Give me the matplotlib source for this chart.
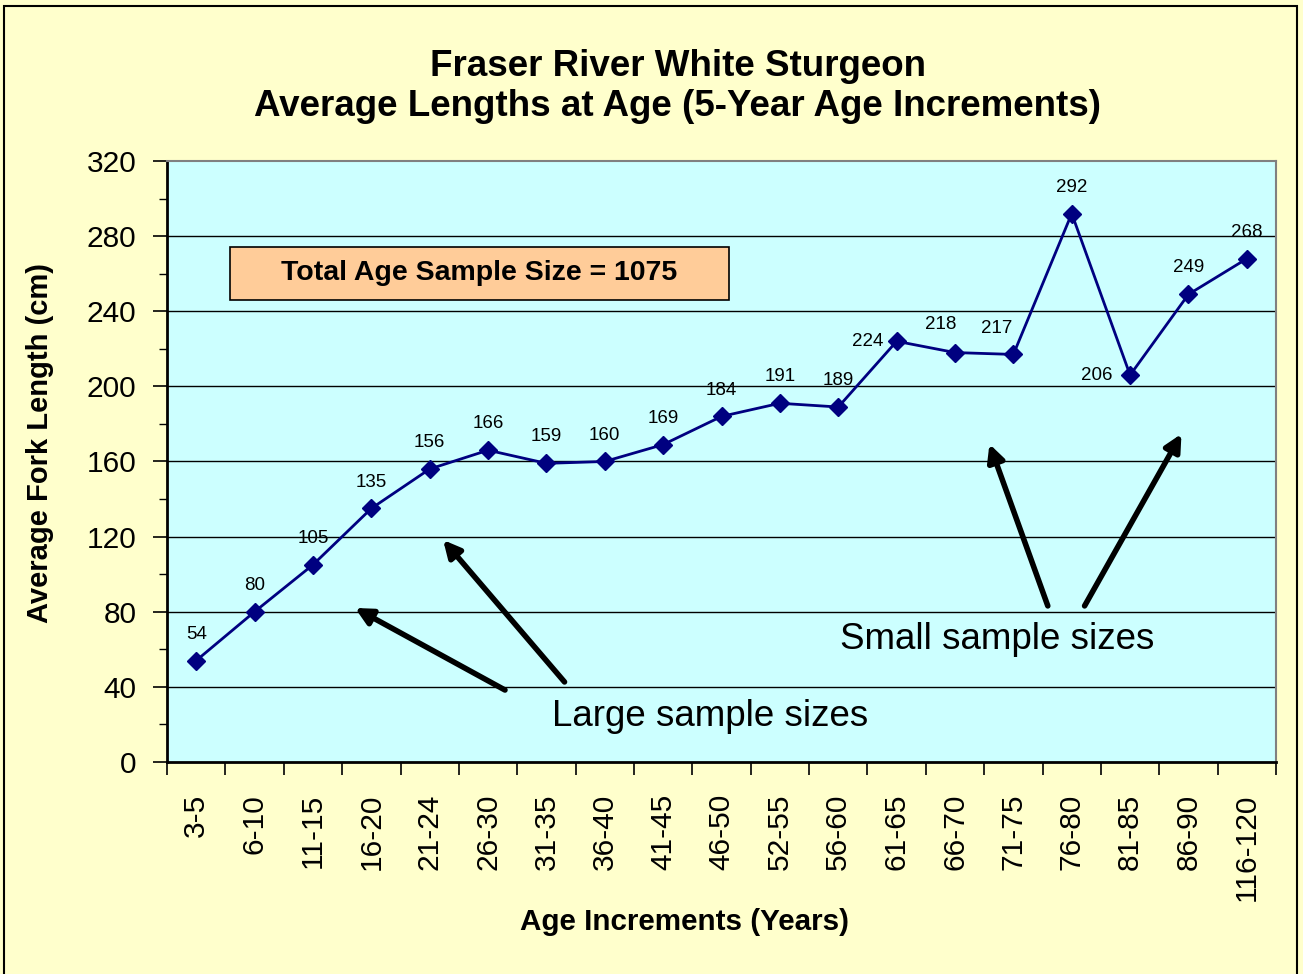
import matplotlib
import matplotlib.pyplot as plt
from matplotlib.patches import Rectangle
from matplotlib.ticker import MultipleLocator, FixedLocator, NullFormatter

plt.switch_backend("Agg")
plt.rcParams["font.family"] = ["Liberation Sans", "DejaVu Sans"]

# data
age_groups = ["3-5", "6-10", "11-15", "16-20", "21-24", "26-30", "31-35", "36-40",
              "41-45", "46-50", "52-55", "56-60", "61-65", "66-70", "71-75", "76-80",
              "81-85", "86-90", "116-120"]
avg_length = [54, 80, 105, 135, 156, 166, 159, 160, 169, 184, 191, 189, 224, 218,
              217, 292, 206, 249, 268]
sample_note = "Total Age Sample Size = 1075"

NAVY = "#000080"
PLOT_BG = "#CCFFFF"
FIG_BG = "#FFFFCC"

fig = plt.figure(figsize=(13.03, 9.74), dpi=100, facecolor=FIG_BG)
fig.patches.append(Rectangle((4 / 1303, -0.01), 1293 / 1303, 1 - 6 / 974 + 0.01,
                             transform=fig.transFigure, fill=False,
                             edgecolor="black", linewidth=1.5))

ax = fig.add_axes([0.1282, 0.2177, 0.8511, 0.6170])
ax.set_facecolor(PLOT_BG)

x = list(range(len(age_groups)))
ax.plot(x, avg_length, color=NAVY, linewidth=2.0, marker="D", markersize=9,
        zorder=3)

# label offsets (points) for the crowded ones; default is straight above
shift = {12: (-21, 0), 13: (-10, 20), 14: (-12, 19), 16: (-24, 0)}
for i, v in enumerate(avg_length):
    dx, dy = shift.get(i, (0, 19))
    ax.annotate(str(v), (i, v), xytext=(dx, dy), textcoords="offset points",
                ha="center", va="center", fontsize=13.5, color="black")

ax.set_xlim(-0.5, len(age_groups) - 0.5)
ax.set_ylim(0, 320)

ax.yaxis.set_major_locator(MultipleLocator(40))
ax.yaxis.set_minor_locator(MultipleLocator(20))
ax.tick_params(axis="y", which="major", length=10, width=1.2, labelsize=21.5, pad=12)
ax.tick_params(axis="y", which="minor", length=6, width=1.0)

ax.set_xticks(x)
ax.set_xticklabels(age_groups, rotation=90, fontsize=21.5, va="top")
ax.tick_params(axis="x", which="major", length=0, pad=23)
ax.xaxis.set_minor_locator(FixedLocator([i - 0.5 for i in range(len(age_groups) + 1)]))
ax.xaxis.set_minor_formatter(NullFormatter())
ax.tick_params(axis="x", which="minor", length=9, width=1.2)

for yv in range(40, 320, 40):
    ax.axhline(yv, color="black", linewidth=1.0, zorder=1)

ax.spines["left"].set_linewidth(2)
ax.spines["bottom"].set_linewidth(2)
ax.spines["top"].set_color("#808080")
ax.spines["right"].set_color("#808080")
ax.spines["top"].set_linewidth(1.5)
ax.spines["right"].set_linewidth(1.5)

ax.text(-0.1145, 0.531, "Average Fork Length (cm)", transform=ax.transAxes,
        rotation=90, ha="center", va="center", fontsize=21, fontweight="bold")
ax.text(0.467, -0.267, "Age Increments (Years)", transform=ax.transAxes,
        ha="center", va="center", fontsize=21.3, fontweight="bold")

fig.text(0.520, 0.911, "Fraser River White Sturgeon\nAverage Lengths at Age (5-Year Age Increments)",
         ha="center", va="center", fontsize=26.5, fontweight="bold", linespacing=1.2)

# sample size box
ax.add_patch(Rectangle((0.0568, 0.769), 0.45, 0.088, transform=ax.transAxes,
                       facecolor="#FFCC99", edgecolor="black", linewidth=1.2,
                       zorder=4))
ax.text(0.2818, 0.813, sample_note, transform=ax.transAxes, ha="center",
        va="center", fontsize=20.5, fontweight="bold", zorder=5)

# annotation arrows
arrow = dict(arrowstyle="-|>", color="black", linewidth=4, mutation_scale=25,
             shrinkA=0, shrinkB=0)
ax.annotate("", xy=(2.72, 82), xytext=(5.29, 38.3), arrowprops=arrow)
ax.annotate("", xy=(4.23, 118.2), xytext=(6.31, 42.6), arrowprops=arrow)
ax.annotate("", xy=(13.59, 169.3), xytext=(14.59, 83.1), arrowprops=arrow)
ax.annotate("", xy=(16.88, 174.7), xytext=(15.22, 83.1), arrowprops=arrow)

ax.text(8.80, 24.4, "Large sample sizes", ha="center", va="center", fontsize=26.5)
ax.text(13.73, 65, "Small sample sizes", ha="center", va="center", fontsize=26.5)

fig.savefig("out.png", dpi=100, facecolor=FIG_BG)
